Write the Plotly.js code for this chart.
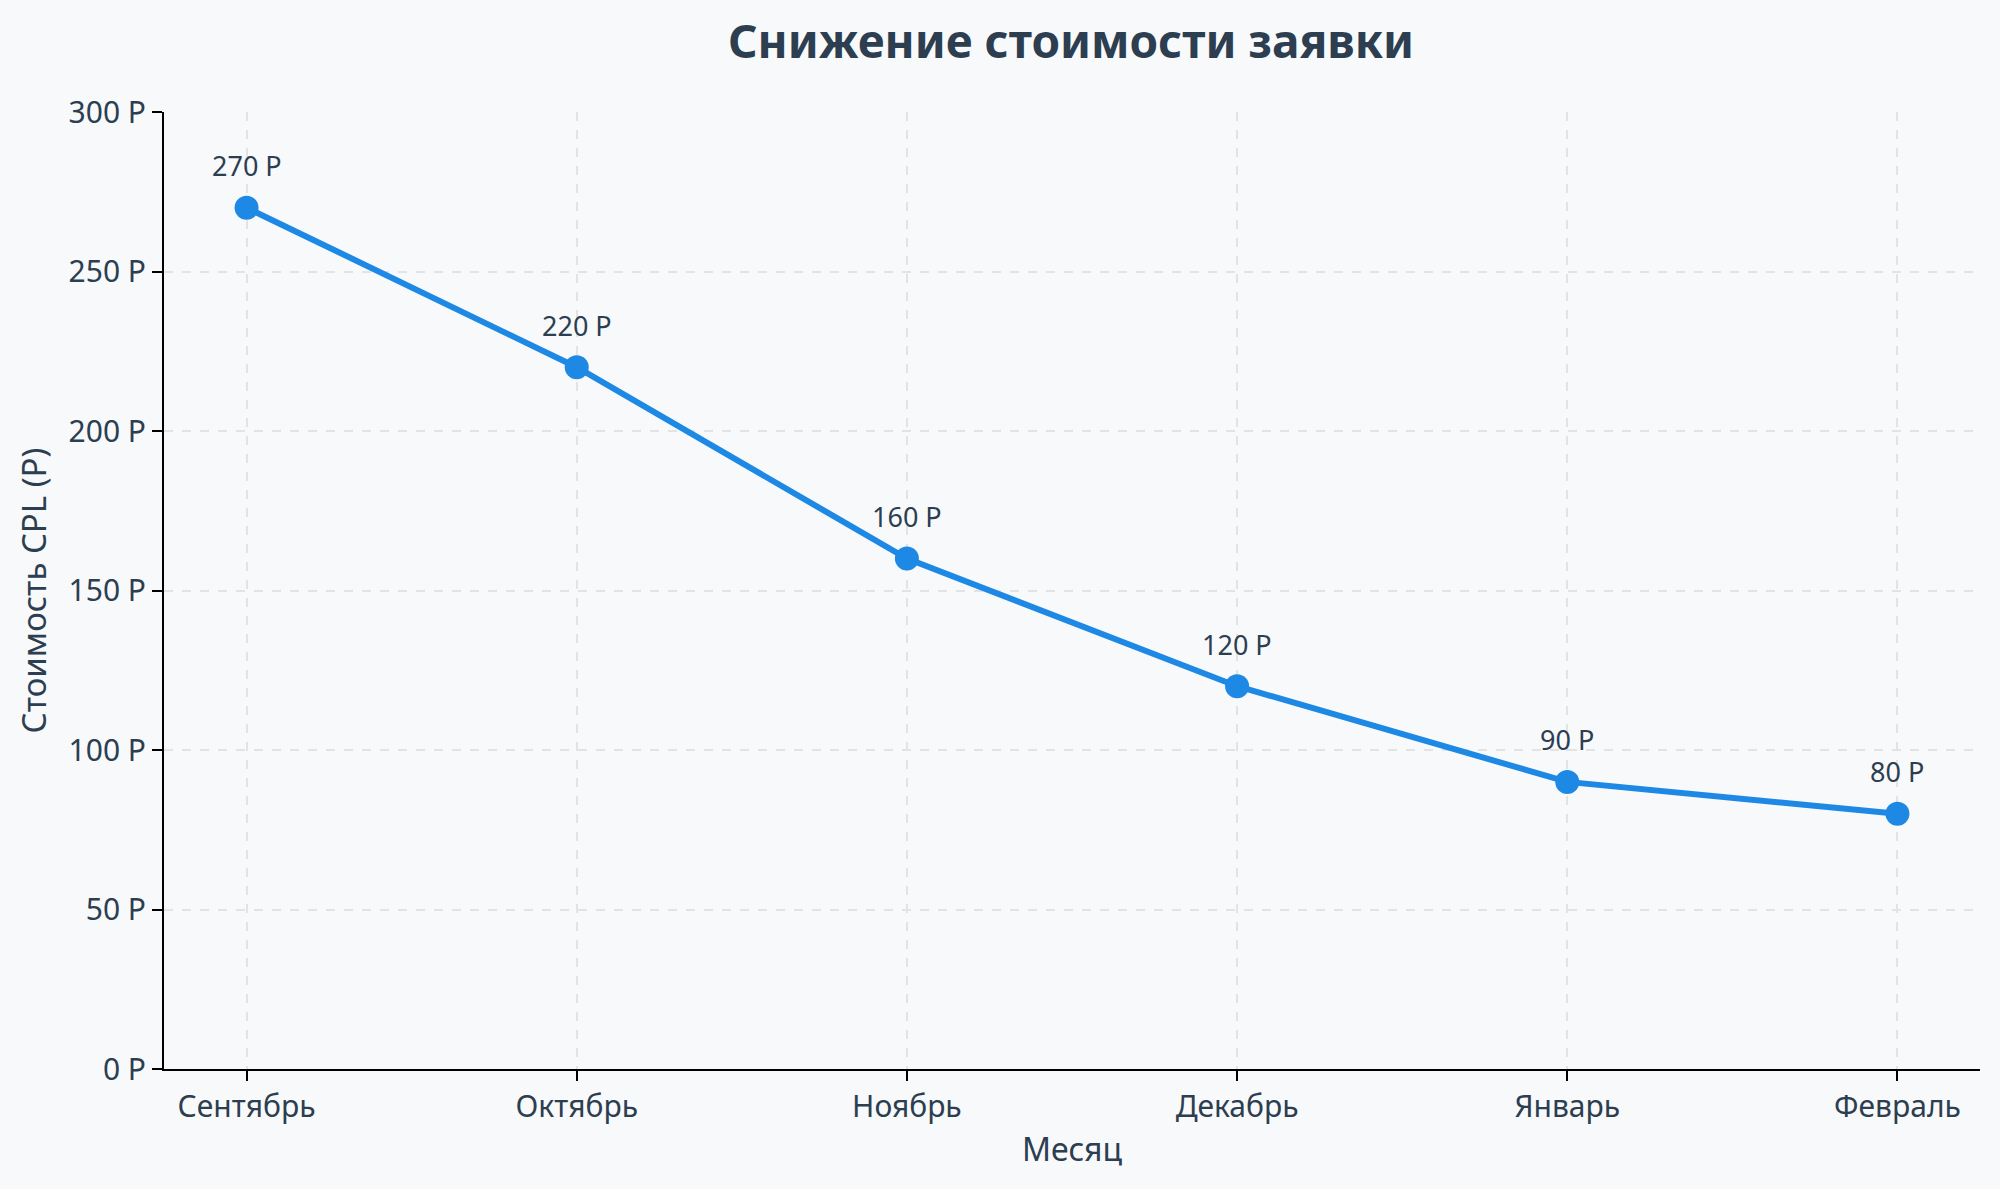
<!DOCTYPE html>
<html>
<head>
<meta charset="utf-8">
<script src="https://cdn.plot.ly/plotly-3.0.1.min.js"></script>
<style>html,body{margin:0;padding:0;background:#f8f9fa;}#chart{width:2000px;height:1189px;}</style>
</head>
<body>
<div id="chart"></div>
<script>
const months = ["Сентябрь", "Октябрь", "Ноябрь", "Декабрь", "Январь", "Февраль"];
const cpl = [270, 220, 160, 120, 90, 80];
const yTicks = [0, 50, 100, 150, 200, 250, 300];
const currency = " Р";

const textColor = "#2c3e50";
const fontFamily = "'Source Sans Pro', 'Noto Sans', sans-serif";

const trace = {
  x: months,
  y: cpl,
  type: "scatter",
  mode: "lines+markers",
  line: {color: "#1e88e5", width: 6},
  marker: {color: "#1e88e5", size: 24},
  hoverinfo: "skip"
};

const annotations = months.map((m, i) => ({
  x: m, y: cpl[i], xref: "x", yref: "y",
  text: cpl[i] + currency,
  showarrow: false,
  yanchor: "middle",
  yshift: 42,
  font: {family: fontFamily, size: 27, color: textColor}
}));

const layout = {
  width: 2000, height: 1189,
  paper_bgcolor: "#f8f9fa",
  plot_bgcolor: "#f8f9fa",
  margin: {l: 164, r: 20, t: 112, b: 120},
  showlegend: false,
  font: {family: fontFamily, color: textColor},
  title: {
    text: "<b>Снижение стоимости заявки</b>",
    font: {family: fontFamily, size: 46, color: textColor},
    x: 0.5355, xanchor: "center", y: 0.965, yanchor: "middle"
  },
  xaxis: {
    type: "category",
    range: [-0.25, 5.25],
    showline: true, linecolor: "#000", linewidth: 2,
    ticks: "outside", ticklen: 10, tickwidth: 2, tickcolor: "#000",
    showgrid: true, gridcolor: "#e3e3e3", gridwidth: 2, griddash: "dash",
    tickfont: {family: fontFamily, size: 30, color: textColor},
    title: {text: "Месяц", font: {family: fontFamily, size: 32, color: textColor}, standoff: 14},
    zeroline: false, fixedrange: true
  },
  yaxis: {
    range: [0, 300],
    tickvals: yTicks,
    ticktext: yTicks.map(v => v + currency),
    showline: true, linecolor: "#000", linewidth: 2,
    ticks: "outside", ticklen: 10, tickwidth: 2, tickcolor: "#000",
    showgrid: true, gridcolor: "#e3e3e3", gridwidth: 2, griddash: "dash",
    tickfont: {family: fontFamily, size: 30, color: textColor},
    title: {text: "Стоимость CPL (Р)", font: {family: fontFamily, size: 33, color: textColor}, standoff: 12},
    zeroline: false, fixedrange: true
  },
  annotations: annotations
};

Plotly.newPlot("chart", [trace], layout, {displayModeBar: false, staticPlot: true});
</script>
</body>
</html>
